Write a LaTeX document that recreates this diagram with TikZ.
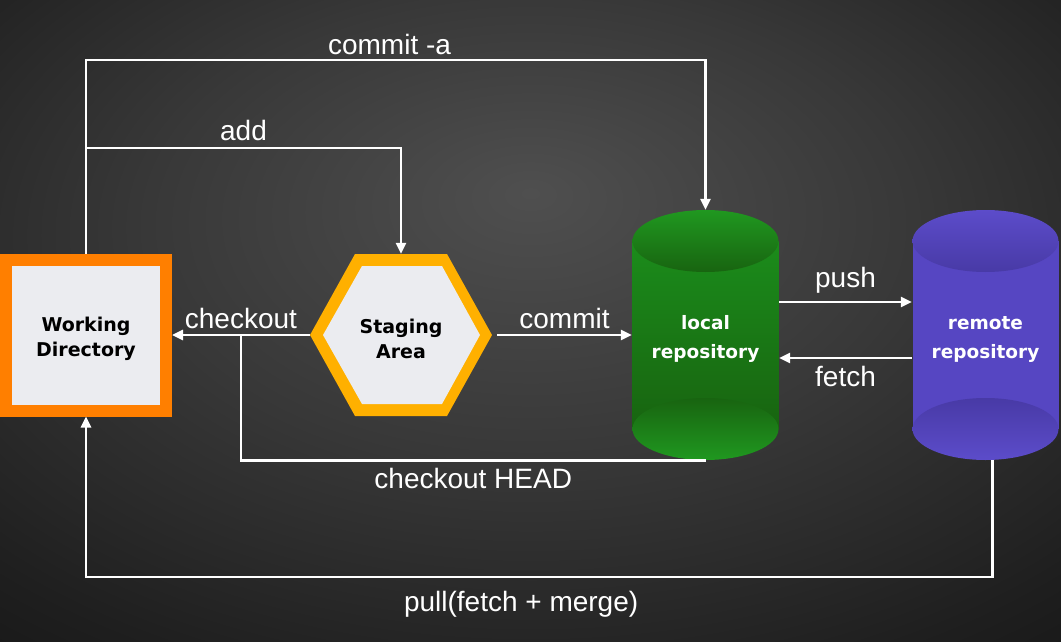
\documentclass[tikz,border=0pt]{standalone}
\usepackage{fontspec}
\setmainfont{Liberation Sans}
\newfontfamily\boxfont{DejaVu Sans}
\usetikzlibrary{arrows.meta}

\definecolor{wdorange}{RGB}{255,127,0}
\definecolor{boxgray}{RGB}{235,236,240}
\definecolor{sayellow}{RGB}{255,176,0}
\definecolor{lrlight}{RGB}{32,152,32}
\definecolor{lrmid}{RGB}{27,140,27}
\definecolor{lrdark}{RGB}{24,100,16}
\definecolor{rrlight}{RGB}{92,76,202}
\definecolor{rrmid}{RGB}{86,70,194}
\definecolor{rrdark}{RGB}{72,58,166}

\pgfdeclareradialshading{bgglow}{\pgfpoint{0bp}{10bp}}{rgb(0bp)=(0.31,0.31,0.31); rgb(18bp)=(0.22,0.22,0.22); rgb(35bp)=(0.12,0.12,0.12); rgb(50bp)=(0.05,0.05,0.05); rgb(70bp)=(0,0,0)}

\begin{document}
\begin{tikzpicture}[x=1pt,y=-1pt,
  flow/.style={draw=white,line width=2.6pt},
  arr/.style={flow,-{Triangle[length=11pt,width=10pt]}},
  lbl/.style={text=white,font=\fontsize{28}{32}\selectfont,inner sep=2pt},
  boxtxt/.style={align=center,yshift=-4pt,font=\boxfont\bfseries\fontsize{19}{25}\selectfont},
  storetxt/.style={align=center,yshift=-4pt,text=white,font=\boxfont\bfseries\fontsize{18.5}{29}\selectfont},
  wdbox/.style={draw=wdorange,fill=boxgray,line width=12pt,minimum width=160pt,minimum height=151pt,inner sep=0pt},
  store/.style={minimum width=147pt,minimum height=250pt}]
\useasboundingbox (0,0) rectangle (1061,642);
\shade[shading=bgglow] (0,0) rectangle (1061,642);

% staging area hexagon
\fill[sayellow] (310,335) -- (355,254) -- (447,254) -- (492,335) -- (447,416) -- (355,416) -- cycle;
\fill[boxgray] (323,335) -- (362,266) -- (442,266) -- (480,335) -- (442,404) -- (362,404) -- cycle;

% local repository drum
\shade[top color=lrmid,bottom color=lrdark] (632.5,241) rectangle (778.5,429);
\shade[top color=lrdark,bottom color=lrlight] (705.5,429) ellipse[x radius=73,y radius=31];
\shade[top color=lrlight,bottom color=lrdark] (705.5,241) ellipse[x radius=73,y radius=31];

% remote repository drum
\fill[rrmid] (912.5,241) rectangle (1058.5,429);
\shade[top color=rrdark,bottom color=rrlight] (985.5,429) ellipse[x radius=73,y radius=31];
\shade[top color=rrlight,bottom color=rrdark] (985.5,241) ellipse[x radius=73,y radius=31];

\node[wdbox,label={[boxtxt]center:{Working\\Directory}}] (wd) at (86,335) {};
\node[minimum width=182pt,minimum height=162pt,label={[boxtxt]center:{Staging\\Area}}] (sa) at (401,335) {};
\node[store,label={[storetxt]center:{local\\repository}}] (lr) at (705.5,335) {};
\node[store,label={[storetxt]center:{remote\\repository}}] (rr) at (985.5,335) {};

\coordinate (top) at (86,60);
\coordinate (addc) at (86,148);
\coordinate (cko) at (241,335);
\coordinate (low) at (86,577);

\draw[arr] (wd.north) -- (top) -| node[lbl,pos=0.245,above=2pt] {commit -a} (lr.north);
\draw[arr] (addc) -| node[lbl,pos=0.25,above=4pt] {add} (sa.north);
\draw[arr] (sa.west) -- node[lbl,above=3pt] {checkout} (wd.east);
\draw[flow] (cko) |- node[lbl,pos=0.75,below=5pt] {checkout HEAD} (lr.south);
\draw[arr] ([xshift=5pt]sa.east) -- node[lbl,above=3pt] {commit} (lr.west);
\draw[arr] ([yshift=33pt]lr.east) -- node[lbl,above=5pt] {push} ([yshift=33pt]rr.west);
\draw[arr] ([yshift=-23pt]rr.west) -- node[lbl,below=5pt] {fetch} ([yshift=-23pt]lr.east);
\draw[arr] ([xshift=7pt]rr.south) -- ([xshift=7pt]rr.south |- low) -| node[lbl,pos=0.26,below=11pt] {pull(fetch + merge)} (wd.south);
\end{tikzpicture}
\end{document}
